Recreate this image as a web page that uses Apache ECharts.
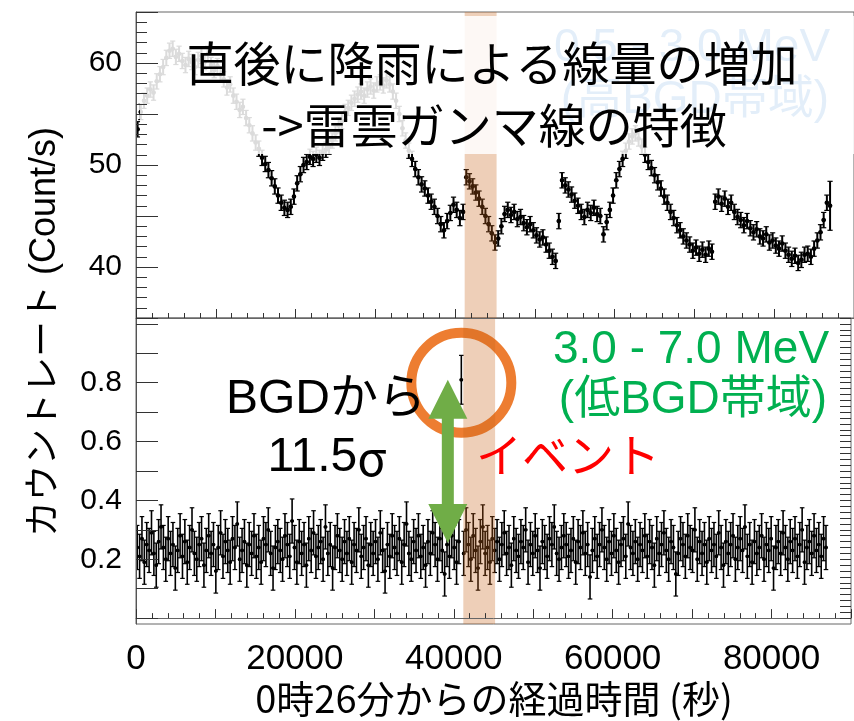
<!DOCTYPE html>
<html>
<head>
<meta charset="utf-8">
<script src="https://cdn.jsdelivr.net/npm/echarts@6/dist/echarts.min.js"></script>
<style>
html,body{margin:0;padding:0;background:#fff;}
#chart{width:854px;height:721px;}
</style>
</head>
<body>
<div id="chart"></div>
<script>
// 0.5 - 3.0 MeV count rate (top panel), one value per 400 s bin
var topFirstTime = 200;
var topBinWidth = 400;
var topRate = [
	53.5, 55.2, 56.3, 56.8, 57.4, 57.1, 58.2, 58.9, 59.6, 60.5,
	61.2, 61.4, 60.6, 60.9, 60.2, 59.8, 60.4, 60.1, 59.6, 60.3,
	60.7, 60.1, 60.9, 59.8, 59.3, 59.7, 58.9, 58.4, 57.6, 57.9,
	56.8, 56.2, 55.4, 55.7, 54.6, 53.9, 53.1, 52.2, 51.6, 50.7,
	50.1, 49.5, 48.7, 47.9, 47.0, 46.3, 45.8, 45.6, 45.9, 46.9,
	48.2, 49.1, 50.0, 50.3, 50.8, 50.6, 51.0, 50.7, 51.2, 51.5,
	51.8, 52.4, 53.1, 53.9, 54.3, 55.2, 55.6, 56.1, 56.5, 56.9,
	57.2, 56.8, 57.4, 57.7, 57.3, 57.9, 58.1, 57.8, 58.3, 57.9,
	57.2, 56.3, 55.0, 53.6, 52.4, 51.4, 50.6, 49.6, 48.8, 48.1,
	47.7, 47.0, 46.4, 45.9, 45.0, 44.2, 43.6, 44.5, 45.3, 46.1,
	45.6, 44.8, 45.4, 48.8, 48.4, 47.9, 47.3, 46.7, 45.9, 45.0,
	44.2, 43.3, 42.4, 42.8, 44.0, 45.2, 45.6, 45.1, 45.4, 44.7,
	44.9, 44.3, 43.9, 44.2, 43.6, 43.1, 42.7, 42.9, 42.2, 41.6,
	41.0, 40.6, 44.5, 48.5, 48.0, 47.6, 47.1, 46.5, 46.0, 45.4,
	44.9, 45.6, 45.3, 45.8, 45.2, 45.0, 43.2, 44.4, 45.6, 47.0,
	48.5, 49.6, 50.6, 51.4, 52.3, 52.8, 53.1, 52.6, 51.8, 51.0,
	50.3, 49.7, 49.0, 48.3, 47.7, 46.9, 46.3, 45.4, 44.8, 44.1,
	43.6, 43.0, 42.6, 42.2, 41.6, 41.9, 41.3, 41.7, 41.2, 41.8,
	41.5, 46.4, 46.9, 46.2, 46.7, 45.9, 46.3, 45.4, 44.9, 44.6,
	44.1, 44.5, 43.8, 43.4, 43.7, 43.0, 42.8, 43.2, 42.4, 42.6,
	42.1, 41.8, 42.3, 41.6, 41.2, 40.8, 41.1, 40.4, 40.7, 41.2,
	41.3, 41.0, 41.8, 42.6, 43.4, 44.6, 46.3, 46.0
];
var topErr = 0.75;
var topErrLastBin = 2.4;

// 3.0 - 7.0 MeV count rate (bottom panel), one value per 300 s bin
var botFirstTime = 150;
var botBinWidth = 300;
var botRate = [
	0.24,0.21,0.27,0.19,0.25,0.23,0.29,0.22,0.18,0.26,
	0.31,0.24,0.20,0.27,0.22,0.25,0.17,0.23,0.28,0.21,
	0.26,0.19,0.24,0.30,0.22,0.20,0.25,0.27,0.18,0.23,
	0.28,0.22,0.25,0.16,0.24,0.29,0.21,0.26,0.23,0.19,
	0.27,0.24,0.32,0.20,0.23,0.26,0.18,0.25,0.22,0.28,
	0.21,0.24,0.19,0.27,0.25,0.30,0.22,0.17,0.24,0.26,
	0.23,0.20,0.28,0.25,0.21,0.33,0.24,0.19,0.26,0.22,
	0.25,0.18,0.27,0.23,0.29,0.21,0.24,0.26,0.20,0.31,
	0.22,0.25,0.17,0.24,0.28,0.23,0.20,0.26,0.22,0.27,
	0.19,0.25,0.23,0.30,0.21,0.24,0.27,0.18,0.25,0.22,
	0.26,0.20,0.29,0.23,0.16,0.25,0.21,0.28,0.24,0.22,
	0.27,0.19,0.25,0.32,0.22,0.20,0.26,0.23,0.28,0.21,
	0.24,0.18,0.26,0.22,0.29,0.25,0.20,0.27,0.23,0.15,
	0.25,0.21,0.28,0.24,0.19,0.26,0.81,0.22,0.30,0.25,
	0.20,0.28,0.23,0.17,0.26,0.31,0.22,0.24,0.19,0.27,
	0.23,0.26,0.20,0.25,0.29,0.22,0.24,0.18,0.27,0.23,
	0.21,0.26,0.24,0.30,0.19,0.25,0.22,0.28,0.23,0.17,
	0.26,0.24,0.21,0.27,0.25,0.31,0.22,0.20,0.24,0.28,
	0.25,0.21,0.23,0.27,0.19,0.26,0.24,0.29,0.22,0.25,
	0.14,0.23,0.27,0.21,0.25,0.30,0.24,0.20,0.26,0.22,
	0.28,0.23,0.19,0.25,0.27,0.21,0.32,0.24,0.22,0.26,
	0.20,0.25,0.23,0.28,0.21,0.26,0.24,0.18,0.27,0.22,
	0.25,0.29,0.23,0.20,0.26,0.24,0.15,0.22,0.27,0.25,
	0.21,0.28,0.24,0.23,0.30,0.20,0.26,0.22,0.25,0.19,
	0.27,0.23,0.25,0.21,0.29,0.24,0.18,0.26,0.22,0.25,
	0.28,0.20,0.24,0.27,0.23,0.31,0.21,0.25,0.19,0.26,
	0.22,0.24,0.28,0.20,0.25,0.23,0.27,0.17,0.24,0.26,
	0.22,0.29,0.24,0.20,0.26,0.23,0.27,0.21,0.25,0.30,
	0.19,0.24,0.26,0.22,0.28,0.23,0.25,0.21,0.27,0.24
];
var botErr = 0.075;

// the event bin and its band
var eventIndex = 136;
var eventErr = 0.083;
var eventBand = [41200, 45200];
var bgdLevel = 0.255;
var arrowTime = 39250;

var xTickLabels = [0, 20000, 40000, 60000, 80000];
var topYLabels = [40, 50, 60];
var botYLabels = [0.2, 0.4, 0.6, 0.8];

var latin = "'Liberation Sans', 'Noto Sans CJK JP', sans-serif";
var jp = "'Noto Sans CJK JP', sans-serif";

var topData = topRate.map(function (v, i) {
	return [topFirstTime + i * topBinWidth, v, i == topRate.length - 1 ? topErrLastBin : topErr];
});
var botData = botRate.map(function (v, i) {
	return [botFirstTime + i * botBinWidth, v, i == eventIndex ? eventErr : botErr];
});
var eventTime = botData[eventIndex][0];
var eventRate = botRate[eventIndex];

var botMajorTicks = [], botMinorTicks = [];
for (var k = 0; k <= 10; k++) botMajorTicks.push(+(k * 0.1).toFixed(2));
for (var k = 0; k <= 51; k++) botMinorTicks.push(+(k * 0.02).toFixed(2));

function errorBar(binHalf, capHalf, lw, dot) {
	return function (params, api) {
		var t = api.value(0), v = api.value(1), e = api.value(2);
		var c = api.coord([t, v]);
		var hi = api.coord([t, v + e])[1];
		var lo = api.coord([t, v - e])[1];
		function ln(x1, y1, x2, y2, w) {
			return {type: 'line', shape: {x1: x1, y1: y1, x2: x2, y2: y2}, style: {stroke: '#000', lineWidth: w}};
		}
		return {
			type: 'group',
			children: [
				ln(c[0], hi, c[0], lo, lw),
				ln(c[0] - capHalf, hi, c[0] + capHalf, hi, 1.2),
				ln(c[0] - capHalf, lo, c[0] + capHalf, lo, 1.2),
				ln(c[0] - binHalf, c[1], c[0] + binHalf, c[1], 2),
				{type: 'circle', shape: {cx: c[0], cy: c[1], r: dot}, style: {fill: '#000'}}
			]
		};
	};
}

function bandItem(params, api) {
	var cs = params.coordSys;
	var x0 = api.coord([api.value(0), api.value(2)])[0];
	var x1 = api.coord([api.value(1), api.value(2)])[0];
	return {type: 'rect', shape: {x: x0, y: cs.y, width: x1 - x0, height: cs.height},
		style: {fill: 'rgba(200,100,25,0.31)'}};
}

function xAxisOf(gridIndex, showLabels) {
	return {
		gridIndex: gridIndex, type: 'value', min: 0, max: 90000, interval: 10000, z: 7,
		axisLine: {show: true, lineStyle: {color: '#666', width: 1}},
		axisTick: {show: true, inside: true, length: 9, lineStyle: {color: '#333'}},
		minorTick: {show: true, splitNumber: 5, length: 5, lineStyle: {color: '#333'}},
		splitLine: {show: false},
		axisLabel: {
			show: showLabels, margin: 18, fontSize: 35, color: '#000', fontFamily: latin,
			formatter: function (v) { return xTickLabels.indexOf(v) >= 0 ? String(v) : ''; }
		}
	};
}

var chart = echarts.init(document.getElementById('chart'));
var option = {
	backgroundColor: '#fff',
	animation: false,
	grid: [
		{left: 136, right: -2, top: 12, height: 306, show: true, borderColor: '#666', borderWidth: 1},
		{left: 136, right: -2, top: 318, height: 306, show: true, borderColor: '#666', borderWidth: 1}
	],
	xAxis: [xAxisOf(0, false), xAxisOf(1, true)],
	yAxis: [
		{
			gridIndex: 0, type: 'value', min: 35, max: 65, interval: 5, z: 7,
			axisLine: {show: true, lineStyle: {color: '#555'}},
			axisTick: {show: true, inside: true, length: 22, lineStyle: {color: '#333'}},
			minorTick: {show: true, splitNumber: 5, length: 11, lineStyle: {color: '#333'}},
			splitLine: {show: false},
			axisLabel: {
				margin: 14, fontSize: 30, color: '#000', fontFamily: latin,
				formatter: function (v) { return topYLabels.indexOf(v) >= 0 ? String(v) : ''; }
			}
		},
		{
			gridIndex: 1, type: 'value', min: -0.02, max: 1.02, z: 7,
			axisLine: {show: true, lineStyle: {color: '#555'}},
			axisTick: {show: true, inside: true, length: 22, customValues: botMajorTicks, lineStyle: {color: '#333'}},
			splitLine: {show: false},
			axisLabel: {
				margin: 14, fontSize: 30, color: '#000', fontFamily: latin,
				customValues: botYLabels,
				formatter: function (v) { return v.toFixed(1); }
			}
		},
		{
			gridIndex: 1, type: 'value', min: -0.02, max: 1.02, z: 7,
			axisLine: {show: false},
			axisTick: {show: true, inside: true, length: 11, customValues: botMinorTicks, lineStyle: {color: '#333'}},
			splitLine: {show: false},
			axisLabel: {show: false}
		}
	],
	series: [
		{
			name: '0.5-3.0 MeV', type: 'custom', xAxisIndex: 0, yAxisIndex: 0, z: 2, clip: true,
			data: topData, encode: {x: 0, y: 1}, renderItem: errorBar(2, 2.6, 2, 2.3)
		},
		{
			name: '3.0-7.0 MeV', type: 'custom', xAxisIndex: 1, yAxisIndex: 1, z: 2, clip: true,
			data: botData, encode: {x: 0, y: 1}, renderItem: errorBar(1.7, 2.3, 1.6, 1.9)
		},
		{
			// circle round the event bin
			type: 'custom', xAxisIndex: 1, yAxisIndex: 1, z: 3, silent: true,
			data: [[eventTime, eventRate]], encode: {x: 0, y: 1},
			renderItem: function (params, api) {
				var c = api.coord([api.value(0), api.value(1)]);
				return {type: 'circle', shape: {cx: c[0], cy: c[1] + 3, r: 50},
					style: {fill: 'none', stroke: '#ed7d31', lineWidth: 10}};
			}
		},
		{
			type: 'custom', xAxisIndex: 0, yAxisIndex: 0, z: 4, silent: true,
			data: [[eventBand[0], eventBand[1], 50]], encode: {x: [0, 1], y: 2}, renderItem: bandItem
		},
		{
			type: 'custom', xAxisIndex: 1, yAxisIndex: 1, z: 4, silent: true,
			data: [[eventBand[0], eventBand[1], 0.5]], encode: {x: [0, 1], y: 2}, renderItem: bandItem
		},
		{
			// double arrow from the BGD level up to the event
			type: 'custom', xAxisIndex: 1, yAxisIndex: 1, z: 8, silent: true,
			data: [[arrowTime, bgdLevel, eventRate]], encode: {x: 0, y: [1, 2]},
			renderItem: function (params, api) {
				var lo = api.coord([api.value(0), api.value(1)]);
				var hi = api.coord([api.value(0), api.value(2)]);
				var x = lo[0], head = 39, hw = 19.5, sw = 6;
				var pts = [
					[x, hi[1]], [x + hw, hi[1] + head], [x + sw, hi[1] + head],
					[x + sw, lo[1] - head], [x + hw, lo[1] - head], [x, lo[1]],
					[x - hw, lo[1] - head], [x - sw, lo[1] - head],
					[x - sw, hi[1] + head], [x - hw, hi[1] + head]
				];
				return {type: 'polygon', shape: {points: pts}, style: {fill: '#70ad47'}};
			}
		}
	],
	graphic: [
		{type: 'text', x: 692, y: 48, z: 5, silent: true,
			style: {text: '0.5 - 3.0 MeV', fill: '#3988d6', fontSize: 46, fontFamily: latin, align: 'center', verticalAlign: 'middle'}},
		{type: 'text', x: 695, y: 100, z: 5, silent: true,
			style: {text: '(高BGD帯域)', fill: '#3988d6', fontSize: 46, fontFamily: latin, align: 'center', verticalAlign: 'middle'}},
		{type: 'rect', z: 6, silent: true, shape: {x: 140, y: 16, width: 720, height: 138},
			style: {fill: 'rgba(255,255,255,0.86)'}},
		{type: 'text', x: 492, y: 63, z: 8, silent: true,
			style: {text: '直後に降雨による線量の増加', fill: '#000', fontSize: 47, fontFamily: jp, align: 'center', verticalAlign: 'middle'}},
		{type: 'text', x: 494, y: 125, z: 8, silent: true,
			style: {text: '->雷雲ガンマ線の特徴', fill: '#000', fontSize: 47, fontFamily: jp, align: 'center', verticalAlign: 'middle'}},
		{type: 'text', x: 691, y: 350, z: 8, silent: true,
			style: {text: '3.0 - 7.0 MeV', fill: '#00b050', fontSize: 46, fontFamily: latin, align: 'center', verticalAlign: 'middle'}},
		{type: 'text', x: 693, y: 400, z: 8, silent: true,
			style: {text: '(低BGD帯域)', fill: '#00b050', fontSize: 46, fontFamily: latin, align: 'center', verticalAlign: 'middle'}},
		{type: 'text', x: 326, y: 400, z: 8, silent: true,
			style: {text: 'BGDから', fill: '#000', fontSize: 48, fontFamily: latin, align: 'center', verticalAlign: 'middle'}},
		{type: 'text', x: 327, y: 458, z: 8, silent: true,
			style: {text: '11.5{s|σ}', fill: '#000', fontSize: 48, fontFamily: latin, align: 'center', verticalAlign: 'middle',
				rich: {s: {fontSize: 48, fontFamily: jp, fill: '#000'}}}},
		{type: 'text', x: 568, y: 455, z: 8, silent: true,
			style: {text: 'イベント', fill: '#ff0000', fontSize: 46, fontFamily: jp, align: 'center', verticalAlign: 'middle'}},
		{type: 'text', x: 45, y: 332, z: 8, rotation: Math.PI / 2, silent: true,
			style: {text: 'カウントレート (Count/s)', fill: '#000', fontSize: 36, fontFamily: latin, align: 'center', verticalAlign: 'middle'}},
		{type: 'text', x: 494, y: 699, z: 8, silent: true,
			style: {text: '0時26分からの経過時間 (秒)', fill: '#000', fontSize: 38, fontFamily: jp, align: 'center', verticalAlign: 'middle'}}
	]
};
chart.setOption(option);
</script>
</body>
</html>
